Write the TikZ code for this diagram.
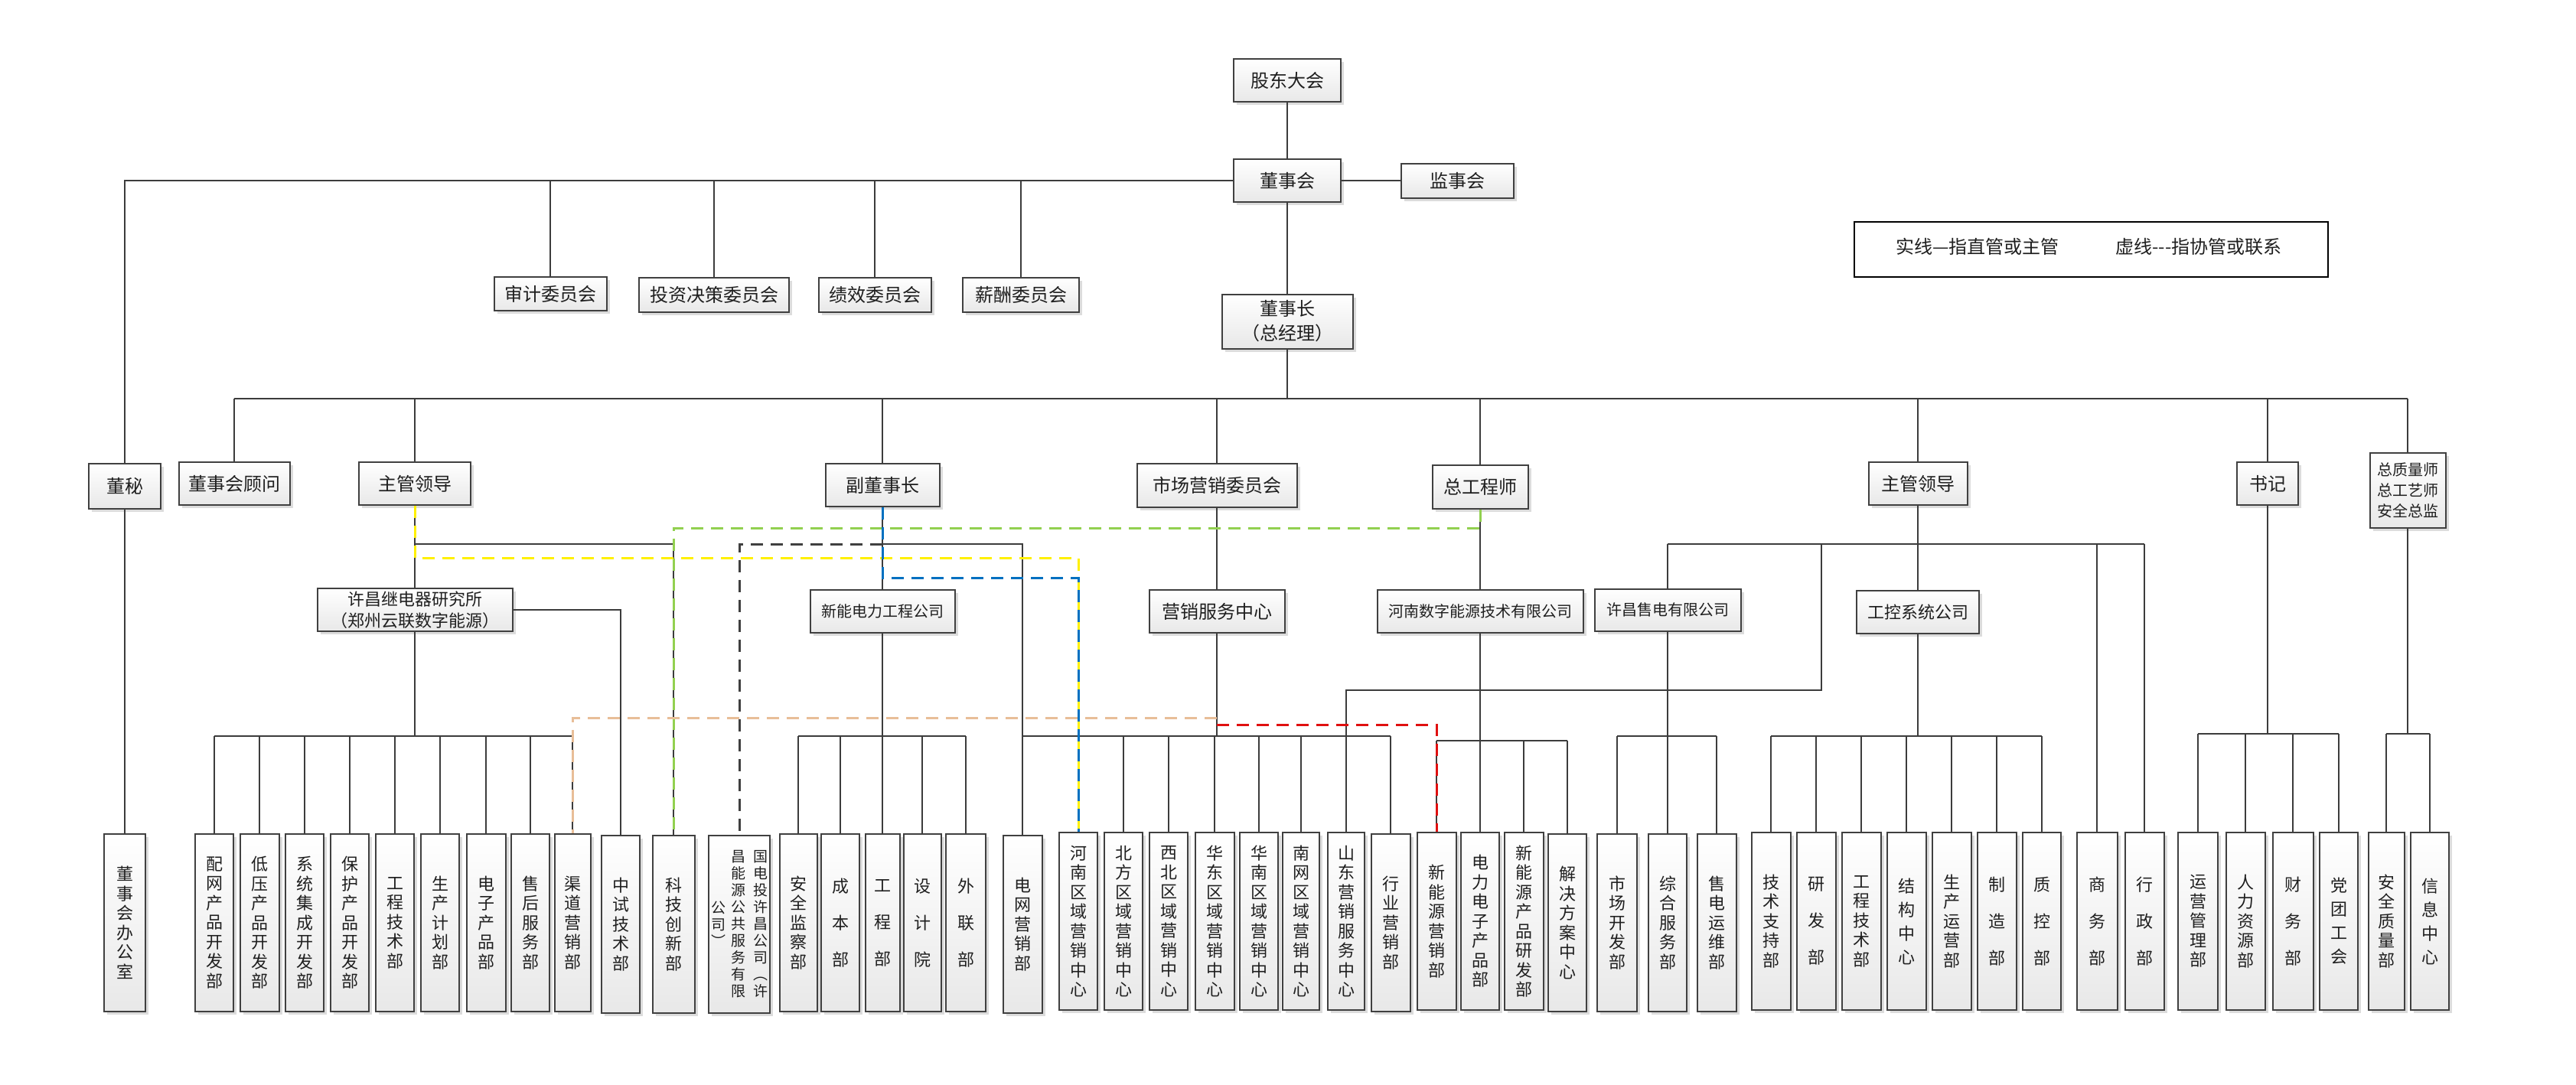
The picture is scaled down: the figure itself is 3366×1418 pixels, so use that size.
\documentclass[tikz,border=0pt]{standalone}
\usepackage{fontspec}
\setmainfont{Noto Sans CJK SC}
\usetikzlibrary{shadows}
\definecolor{bd}{HTML}{404040}
\definecolor{ln}{HTML}{3C3C3C}
\definecolor{cyel}{HTML}{FFF000}
\definecolor{cblu}{HTML}{0070C0}
\definecolor{cgrn}{HTML}{92D050}
\definecolor{cgry}{HTML}{404040}
\definecolor{ctan}{HTML}{E8BE98}
\definecolor{cred}{HTML}{E01010}
\makeatletter
\def\vtxt#1{\vt@a#1\@nil}
\def\vt@a#1#2\@nil{#1\ifx\relax#2\relax\expandafter\@gobble\else\expandafter\@firstofone\fi{\\\vt@a#2\@nil}}
\makeatother
\begin{document}
\begin{tikzpicture}[x=1pt,y=-1pt,
  box/.style={draw=bd, line width=2pt, top color=white, bottom color=gray!18,
    drop shadow={shadow xshift=4pt,shadow yshift=-4pt,fill=black!30,opacity=0.45},
    inner sep=0pt, align=center, text=black!88, font=\fontsize{24}{32}\selectfont},
  vb/.style={box, minimum height=232pt, font=\fontsize{22}{25.5}\selectfont},
  spa/.style={font=\fontsize{22}{48}\selectfont},
  spb/.style={font=\fontsize{22}{31}\selectfont},
  conn/.style={draw=ln, line width=2pt},
  dl/.style={line width=3pt, dash pattern=on 16pt off 10pt},
  col/.style={inner sep=0pt, align=center, text=black!88, font=\fontsize{19}{22}\selectfont},
  lgt/.style={inner sep=0pt, text=black!88, font=\fontsize{24}{28}\selectfont}]
\fill[white] (0,0) rectangle (3366,1418);
\useasboundingbox (0,0) rectangle (3366,1418);
% top level
\node[box, minimum width=140pt, minimum height=56pt] (gd) at (1682,105) {股东大会};
\node[box, minimum width=140pt, minimum height=56pt] (dsh) at (1682,236) {董事会};
\node[box, minimum width=147pt, minimum height=45pt] (jsh) at (1904,236) {监事会};
\node[box, minimum width=147pt, minimum height=44pt] (sjw) at (719,384) {审计委员会};
\node[box, minimum width=196pt, minimum height=45pt] (tzw) at (933,385) {投资决策委员会};
\node[box, minimum width=147pt, minimum height=45pt] (jxw) at (1143,385) {绩效委员会};
\node[box, minimum width=152pt, minimum height=45pt] (xcw) at (1334,385) {薪酬委员会};
\node[box, minimum width=171pt, minimum height=71pt] (dsz) at (1682,420) {董事长\\（总经理）};
% legend
\node[draw=black, line width=2pt, fill=white, minimum width=619pt, minimum height=72pt, inner sep=0pt] (lg) at (2732,326) {};
\node[lgt] (lg1) at (2584,322) {实线—指直管或主管};
\node[lgt] (lg2) at (2873,322) {虚线-{}-{}-指协管或联系};
% second level
\node[box, minimum width=94pt, minimum height=59pt] (dm) at (163,635) {董秘};
\node[box, minimum width=145pt, minimum height=56pt] (gw) at (306,632) {董事会顾问};
\node[box, minimum width=146pt, minimum height=56pt] (zg1) at (542,632) {主管领导};
\node[box, minimum width=149pt, minimum height=56pt] (fdsz) at (1153,634) {副董事长};
\node[box, minimum width=209pt, minimum height=57pt] (scw) at (1590,634) {市场营销委员会};
\node[box, minimum width=125pt, minimum height=57pt] (zgc) at (1934,636) {总工程师};
\node[box, minimum width=129pt, minimum height=56pt] (zg2) at (2506,632) {主管领导};
\node[box, minimum width=80pt, minimum height=56pt] (sjj) at (2963,632) {书记};
\node[box, minimum width=99pt, minimum height=98pt, font=\fontsize{20}{27}\selectfont] (zzl) at (3146,641) {总质量师\\总工艺师\\安全总监};
% third level
\node[box, minimum width=255pt, minimum height=56pt, font=\fontsize{22}{28}\selectfont] (xj) at (542,797) {许昌继电器研究所\\（郑州云联数字能源）};
\node[box, minimum width=189pt, minimum height=56pt, font=\fontsize{20}{24}\selectfont] (xn) at (1153,799) {新能电力工程公司};
\node[box, minimum width=177pt, minimum height=56pt] (yx) at (1590,799) {营销服务中心};
\node[box, minimum width=269pt, minimum height=56pt, font=\fontsize{20}{24}\selectfont] (hn) at (1934,799) {河南数字能源技术有限公司};
\node[box, minimum width=191pt, minimum height=55pt, font=\fontsize{20}{24}\selectfont] (xs) at (2179,797) {许昌售电有限公司};
\node[box, minimum width=160pt, minimum height=56pt, font=\fontsize{22}{26}\selectfont] (gk) at (2506,800) {工控系统公司};
% bottom level
\node[vb, minimum width=54pt] (bgs) at (163,1206) {\vtxt{董事会办公室}};
\node[vb, minimum width=50pt] (pw) at (280,1206) {\vtxt{配网产品开发部}};
\node[vb, minimum width=51pt] (dy) at (339,1206) {\vtxt{低压产品开发部}};
\node[vb, minimum width=50pt] (xt) at (398,1206) {\vtxt{系统集成开发部}};
\node[vb, minimum width=50pt] (bh) at (457,1206) {\vtxt{保护产品开发部}};
\node[vb, minimum width=50pt] (gc1) at (516,1206) {\vtxt{工程技术部}};
\node[vb, minimum width=50pt] (scjh) at (575,1206) {\vtxt{生产计划部}};
\node[vb, minimum width=51pt] (dz) at (635,1206) {\vtxt{电子产品部}};
\node[vb, minimum width=50pt] (sh) at (693,1206) {\vtxt{售后服务部}};
\node[vb, minimum width=47pt] (qd) at (748,1206) {\vtxt{渠道营销部}};
\node[vb, minimum width=50pt] (zs) at (811,1208) {\vtxt{中试技术部}};
\node[vb, minimum width=55pt] (kj) at (880,1208) {\vtxt{科技创新部}};
\node[vb, minimum width=80pt] (gdt) at (966,1208) {};
\node[col] (gdt1) at (994,1208) {\vtxt{国电投许昌公司︵许}};
\node[col] (gdt2) at (965,1208) {\vtxt{昌能源公共服务有限}};
\node[col] (gdt3) at (939,1208) {\vtxt{公司︶}};
\node[vb, minimum width=49pt] (aq) at (1043,1206) {\vtxt{安全监察部}};
\node[vb, spa, minimum width=50pt] (cb) at (1098,1206) {\vtxt{成本部}};
\node[vb, spa, minimum width=45pt] (gcb) at (1153,1206) {\vtxt{工程部}};
\node[vb, spa, minimum width=49pt] (sjy) at (1205,1206) {\vtxt{设计院}};
\node[vb, spa, minimum width=52pt] (wl) at (1262,1206) {\vtxt{外联部}};
\node[vb, minimum width=51pt] (dw) at (1336,1208) {\vtxt{电网营销部}};
\node[vb, minimum width=50pt] (hnq) at (1409,1204) {\vtxt{河南区域营销中心}};
\node[vb, minimum width=50pt] (bf) at (1468,1204) {\vtxt{北方区域营销中心}};
\node[vb, minimum width=50pt] (xb) at (1527,1204) {\vtxt{西北区域营销中心}};
\node[vb, minimum width=51pt] (hd) at (1587,1204) {\vtxt{华东区域营销中心}};
\node[vb, minimum width=50pt] (hnn) at (1645,1204) {\vtxt{华南区域营销中心}};
\node[vb, minimum width=48pt] (nw) at (1700,1204) {\vtxt{南网区域营销中心}};
\node[vb, minimum width=48pt] (sd) at (1759,1204) {\vtxt{山东营销服务中心}};
\node[vb, minimum width=51pt] (hy) at (1817,1206) {\vtxt{行业营销部}};
\node[vb, minimum width=51pt] (xny) at (1877,1204) {\vtxt{新能源营销部}};
\node[vb, minimum width=50pt] (dldz) at (1934,1204) {\vtxt{电力电子产品部}};
\node[vb, minimum width=51pt] (xyf) at (1991,1204) {\vtxt{新能源产品研发部}};
\node[vb, minimum width=50pt] (jj) at (2048,1206) {\vtxt{解决方案中心}};
\node[vb, minimum width=52pt] (sckf) at (2113,1206) {\vtxt{市场开发部}};
\node[vb, minimum width=50pt] (zhfw) at (2179,1206) {\vtxt{综合服务部}};
\node[vb, minimum width=51pt] (sdyw) at (2243,1206) {\vtxt{售电运维部}};
\node[vb, minimum width=51pt] (jszc) at (2314,1204) {\vtxt{技术支持部}};
\node[vb, spa, minimum width=51pt] (yf) at (2373,1204) {\vtxt{研发部}};
\node[vb, minimum width=51pt] (gcjs) at (2432,1204) {\vtxt{工程技术部}};
\node[vb, spb, minimum width=51pt] (jg) at (2491,1204) {\vtxt{结构中心}};
\node[vb, minimum width=51pt] (scyy) at (2550,1204) {\vtxt{生产运营部}};
\node[vb, spa, minimum width=51pt] (zz) at (2609,1204) {\vtxt{制造部}};
\node[vb, spa, minimum width=50pt] (zk) at (2668,1204) {\vtxt{质控部}};
\node[vb, spa, minimum width=53pt] (swb) at (2740,1204) {\vtxt{商务部}};
\node[vb, spa, minimum width=51pt] (xzb) at (2802,1204) {\vtxt{行政部}};
\node[vb, minimum width=52pt] (yy) at (2872,1204) {\vtxt{运营管理部}};
\node[vb, minimum width=51pt] (rl) at (2934,1204) {\vtxt{人力资源部}};
\node[vb, spa, minimum width=53pt] (cw) at (2996,1204) {\vtxt{财务部}};
\node[vb, spb, minimum width=50pt] (dt) at (3056,1204) {\vtxt{党团工会}};
\node[vb, minimum width=47pt] (aqzl) at (3118,1204) {\vtxt{安全质量部}};
\node[vb, spb, minimum width=50pt] (xx) at (3175,1204) {\vtxt{信息中心}};
% level coordinates
\coordinate (ybus) at (0,521);
\coordinate (ys) at (0,711);
\coordinate (yb) at (0,962);
\coordinate (yh) at (0,968);
\coordinate (yq) at (0,959);
\coordinate (ysd) at (0,902);
\coordinate (xsd) at (2380,0);
\coordinate (yyl) at (0,729);
\coordinate (ybl) at (0,755);
\coordinate (ygr) at (0,690);
\coordinate (ytn) at (0,938);
\coordinate (yrd) at (0,947);
% solid connectors
\draw[conn] (gd) -- (dsh);
\draw[conn] (dsh) -- (jsh);
\draw[conn] (dsh.west) -| (dm.north);
\foreach \n in {sjw,tzw,jxw,xcw} {\draw[conn] (\n.north) -- (\n.north |- dsh.west);}
\draw[conn] (dsh) -- (dsz);
\draw[conn] (dsz.south) -- (dsz.south |- ybus);
\draw[conn] (gw.north |- ybus) -- (zzl.north |- ybus);
\foreach \n in {gw,zg1,fdsz,scw,zgc,zg2,sjj,zzl} {\draw[conn] (\n.north |- ybus) -- (\n.north);}
\draw[conn] (dm) -- (bgs);
\draw[conn] (zg1) -- (xj);
\draw[conn] (zg1.south |- ys) -| (kj.north);
\draw[conn] (xj.east) -| (zs.north);
\draw[conn] (xj.south) -- (xj.south |- yb);
\draw[conn] (pw.north |- yb) -- (qd.north |- yb);
\foreach \n in {pw,dy,xt,bh,gc1,scjh,dz,sh,qd} {\draw[conn] (\n.north) -- (\n.north |- yb);}
\draw[conn] (fdsz) -- (xn);
\draw[conn] (fdsz.south |- ys) -| (dw.north);
\draw[conn] (xn.south) -- (xn.south |- yb);
\draw[conn] (aq.north |- yb) -- (wl.north |- yb);
\foreach \n in {aq,cb,gcb,sjy,wl} {\draw[conn] (\n.north) -- (\n.north |- yb);}
\draw[conn] (scw) -- (yx);
\draw[conn] (yx.south) -- (yx.south |- yb);
\draw[conn] (dw.north |- yb) -- (hy.north |- yb);
\foreach \n in {bf,xb,hd,hnn,nw,hy} {\draw[conn] (\n.north) -- (\n.north |- yb);}
\draw[conn] (zgc) -- (hn);
\draw[conn] (hn.south) -- (dldz.north);
\draw[conn] (xny.north |- yh) -- (jj.north |- yh);
\foreach \n in {xny,xyf,jj} {\draw[conn] (\n.north) -- (\n.north |- yh);}
\draw[conn] (zg2) -- (gk);
\draw[conn] (xs.north |- ys) -- (xzb.north |- ys);
\foreach \n in {xs,swb,xzb} {\draw[conn] (\n.north |- ys) -- (\n.north);}
\draw[conn] (xsd |- ys) -- (xsd |- ysd) -| (sd.north);
\draw[conn] (xs.south) -- (xs.south |- yb);
\draw[conn] (sckf.north |- yb) -- (sdyw.north |- yb);
\foreach \n in {sckf,zhfw,sdyw} {\draw[conn] (\n.north) -- (\n.north |- yb);}
\draw[conn] (gk.south) -- (gk.south |- yb);
\draw[conn] (jszc.north |- yb) -- (zk.north |- yb);
\foreach \n in {jszc,yf,gcjs,jg,scyy,zz,zk} {\draw[conn] (\n.north) -- (\n.north |- yb);}
\draw[conn] (sjj.south) -- (sjj.south |- yq);
\draw[conn] (yy.north |- yq) -- (dt.north |- yq);
\foreach \n in {yy,rl,cw,dt} {\draw[conn] (\n.north) -- (\n.north |- yq);}
\draw[conn] (zzl.south) -- (zzl.south |- yq);
\draw[conn] (aqzl.north |- yq) -- (xx.north |- yq);
\foreach \n in {aqzl,xx} {\draw[conn] (\n.north) -- (\n.north |- yq);}
% dashed connectors
\draw[dl, cgry] (fdsz.south |- ys) -| (gdt.north);
\draw[dl, cgrn] (zgc.south) -- (zgc.south |- ygr) -| (kj.north);
\draw[dl, ctan] (yx.south |- ytn) -| (qd.north);
\draw[dl, cred] (yx.south |- yrd) -| (xny.north);
\draw[dl, cyel] (zg1.south) -- (zg1.south |- yyl) -| (hnq.north);
\draw[dl, cblu] (fdsz.south) -- (fdsz.south |- ybl) -| (hnq.north);
\end{tikzpicture}
\end{document}
